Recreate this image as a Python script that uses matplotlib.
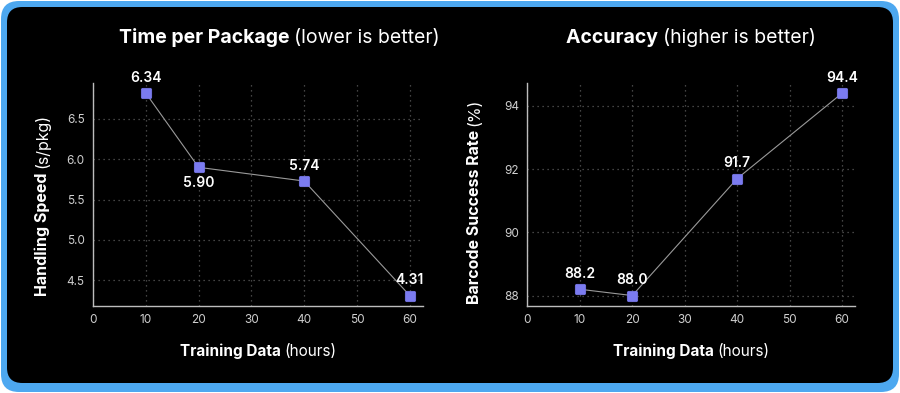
import matplotlib
matplotlib.use("Agg")
import matplotlib.pyplot as plt
from matplotlib.patches import FancyBboxPatch
from matplotlib.path import Path

plt.rcParams['font.family'] = ['Inter', 'DejaVu Sans']

# ---- data ----
hours = [10, 20, 40, 60]
speed = [6.82, 5.90, 5.73, 4.31]
speed_labels = ["6.34", "5.90", "5.74", "4.31"]
accuracy = [88.2, 88.0, 91.7, 94.4]
accuracy_labels = ["88.2", "88.0", "91.7", "94.4"]
xticks = [0, 10, 20, 30, 40, 50, 60]
speed_yticks = [4.5, 5.0, 5.5, 6.0, 6.5]
acc_yticks = [88, 90, 92, 94]

W, H = 900, 393
fig = plt.figure(figsize=(W / 100, H / 100), dpi=100)
fig.patch.set_facecolor('white')

# border
blue = '#4DA8F0'
fig.patches.append(FancyBboxPatch((1 / W, 1 / H), 898 / W, 391 / H,
                                  boxstyle="round,pad=0,rounding_size=0.02",
                                  transform=fig.transFigure, facecolor=blue,
                                  edgecolor='none', zorder=-3,
                                  mutation_aspect=W / H))
fig.patches.append(FancyBboxPatch((7 / W, 10 / H), 886 / W, 376 / H,
                                  boxstyle="round,pad=0,rounding_size=0.017",
                                  transform=fig.transFigure, facecolor='black',
                                  edgecolor='none', zorder=-2,
                                  mutation_aspect=W / H))

# rounded-square marker path
def rounded_square(r=0.3):
    k = 0.5523 * r
    a = 1.0
    verts = [
        (-a + r, -a), (a - r, -a),
        (a - r + k, -a), (a, -a + r - k), (a, -a + r),
        (a, a - r),
        (a, a - r + k), (a - r + k, a), (a - r, a),
        (-a + r, a),
        (-a + r - k, a), (-a, a - r + k), (-a, a - r),
        (-a, -a + r),
        (-a, -a + r - k), (-a + r - k, -a), (-a + r, -a),
        (-a + r, -a),
    ]
    codes = [Path.MOVETO, Path.LINETO,
             Path.CURVE4, Path.CURVE4, Path.CURVE4,
             Path.LINETO,
             Path.CURVE4, Path.CURVE4, Path.CURVE4,
             Path.LINETO,
             Path.CURVE4, Path.CURVE4, Path.CURVE4,
             Path.LINETO,
             Path.CURVE4, Path.CURVE4, Path.CURVE4,
             Path.CLOSEPOLY]
    return Path(verts, codes)

RSQ = rounded_square()

marker_color = '#7B7BF0'
line_color = '#9a9a9a'
tick_color = '#cfcfcf'
spine_color = '#bdbdbd'
grid_color = '#5a5a5a'

ax1 = fig.add_axes([93 / W, 1 - 305.7 / H, 330 / W, (305.7 - 83) / H])
ax2 = fig.add_axes([527.3 / W, 1 - 305.7 / H, 328 / W, (305.7 - 83) / H])

def style(ax, yticks):
    ax.set_facecolor('none')
    for s in ['top', 'right']:
        ax.spines[s].set_visible(False)
    for s in ['left', 'bottom']:
        ax.spines[s].set_color(spine_color)
        ax.spines[s].set_linewidth(1.0)
    ax.set_xticks(xticks)
    ax.set_yticks(yticks)
    ax.tick_params(colors=tick_color, labelsize=8.5, length=0, pad=6)
    ax.grid(True, linestyle=(0, (1, 3)), color=grid_color, linewidth=0.9)
    ax.set_axisbelow(True)

def plot_series(ax, x, y, labels, offsets):
    ax.plot(x, y, color=line_color, linewidth=0.8, zorder=2)
    ax.plot(x, y, linestyle='none', marker=RSQ, markersize=7.5,
            markerfacecolor=marker_color, markeredgecolor=marker_color,
            markeredgewidth=0.5, zorder=3)
    for xi, yi, lab, off in zip(x, y, labels, offsets):
        ax.annotate(lab, (xi, yi), xytext=off, textcoords='offset points',
                    ha='center', va='center', color='white', fontsize=10,
                    fontweight='semibold', zorder=4)

style(ax1, speed_yticks)
plot_series(ax1, hours, speed, speed_labels,
            [(0, 11), (0, -11), (0, 11), (0, 11)])
ax1.set_xlim(0, 62.5)
ax1.set_yticklabels([f"{v:.1f}" for v in speed_yticks])

style(ax2, acc_yticks)
plot_series(ax2, hours, accuracy, accuracy_labels,
            [(0, 11), (0, 11), (0, 11), (0, 11)])
ax2.set_xlim(0, 62.5)

fig.canvas.draw()
renderer = fig.canvas.get_renderer()

def two_part(xc, yc, bold, regular, size, rotation=0):
    """Draw bold + regular text joined; horizontal: centered at (xc, yc from top);
    vertical: left edge xc, centered at yc."""
    t1 = fig.text(0, 0, bold + " ", fontsize=size, fontweight='bold',
                  color='white', rotation=rotation, va='baseline', ha='left')
    t2 = fig.text(0, 0, regular, fontsize=size, fontweight='normal',
                  color='white', rotation=rotation, va='baseline', ha='left')
    e1 = t1.get_window_extent(renderer)
    e2 = t2.get_window_extent(renderer)
    if rotation == 0:
        total = e1.width + e2.width
        x0 = xc - total / 2
        t1.set_position((x0 / W, 1 - yc / H))
        t2.set_position(((x0 + e1.width) / W, 1 - yc / H))
    else:
        total = e1.height + e2.height
        y0 = (H - yc) - total / 2
        t1.set_position((xc / W, y0 / H))
        t2.set_position((xc / W, (y0 + e1.height) / H))

two_part(279, 43, "Time per Package", "(lower is better)", 14)
two_part(691, 43, "Accuracy", "(higher is better)", 14)
two_part(258, 356, "Training Data", "(hours)", 11)
two_part(691, 356, "Training Data", "(hours)", 11)
two_part(34, 202, "Handling Speed", "(s/pkg)", 11.5, rotation=90)
two_part(467, 198, "Barcode Success Rate", "(%)", 11.5, rotation=90)

fig.savefig("out.png", dpi=100, facecolor=fig.get_facecolor())
